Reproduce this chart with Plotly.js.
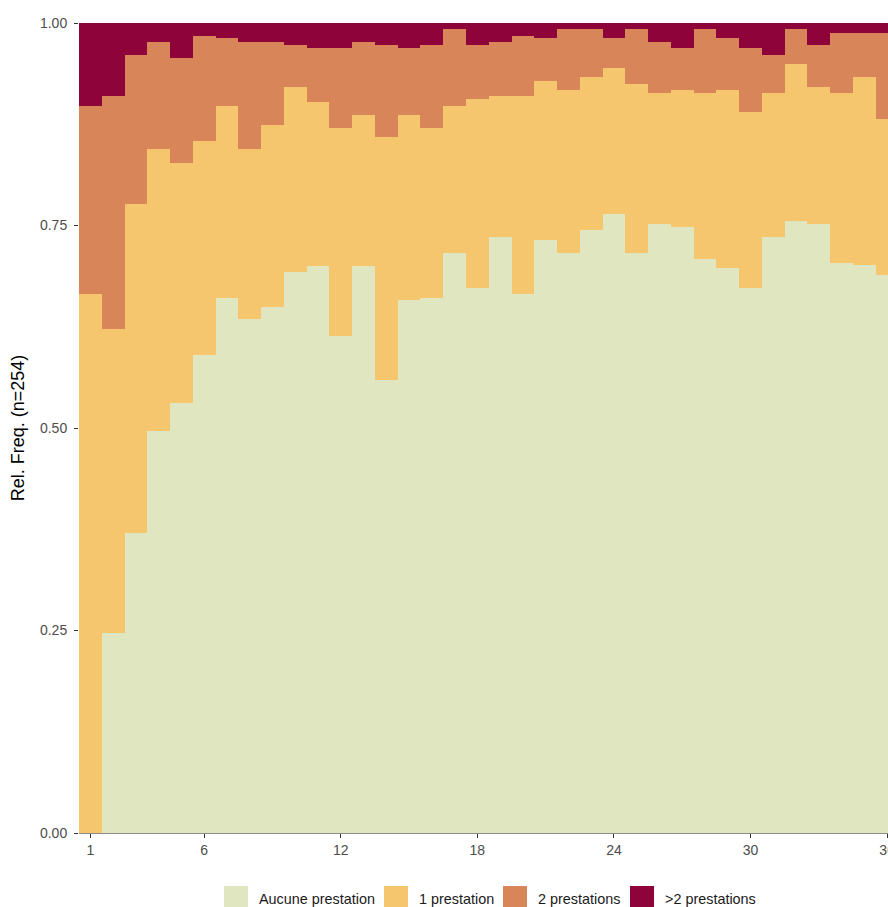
<!DOCTYPE html>
<html>
<head>
<meta charset="utf-8">
<script src="https://cdn.plot.ly/plotly-3.0.1.min.js"></script>
<style>html,body{margin:0;padding:0;background:#fff;overflow:hidden}#chart{width:888px;height:907px}</style>
</head>
<body>
<div id="chart"></div>
<script>
// Categories (x positions)
var categories = [1,2,3,4,5,6,7,8,9,10,11,12,13,14,15,16,17,18,19,20,21,22,23,24,25,26,27,28,29,30,31,32,33,34,35,36];

// Series values (relative frequencies)
var aucune = [0.000,0.247,0.370,0.496,0.531,0.590,0.661,0.634,0.649,0.693,0.700,0.614,0.700,0.559,0.658,0.661,0.716,0.673,0.736,0.665,0.732,0.716,0.744,0.764,0.716,0.752,0.748,0.709,0.697,0.673,0.736,0.756,0.752,0.704,0.701,0.689];
var une = [0.665,0.375,0.406,0.348,0.296,0.264,0.237,0.210,0.225,0.228,0.202,0.256,0.186,0.300,0.228,0.209,0.182,0.233,0.174,0.245,0.197,0.201,0.189,0.181,0.209,0.162,0.169,0.205,0.220,0.217,0.178,0.193,0.169,0.210,0.232,0.193];
var deux = [0.233,0.288,0.185,0.133,0.130,0.130,0.083,0.133,0.103,0.052,0.067,0.099,0.091,0.114,0.083,0.103,0.094,0.067,0.067,0.074,0.052,0.075,0.059,0.036,0.067,0.063,0.052,0.078,0.064,0.079,0.047,0.043,0.052,0.074,0.055,0.106];
var plus = [0.102,0.090,0.039,0.023,0.043,0.016,0.019,0.023,0.023,0.027,0.031,0.031,0.023,0.027,0.031,0.027,0.008,0.027,0.023,0.016,0.019,0.008,0.008,0.019,0.008,0.023,0.031,0.008,0.019,0.031,0.039,0.008,0.027,0.012,0.012,0.012];

var seriesNames = ["Aucune prestation","1 prestation","2 prestations",">2 prestations"];
var seriesColors = ["#E0E6C0","#F5C66E","#D9855A","#8E033A"];
var seriesValues = [aucune, une, deux, plus];

// Tick labels
var xTickVals = [1,6,12,18,24,30,36];
var yTickVals = [0,0.25,0.5,0.75,1];
var yTickText = ["0.00","0.25","0.50","0.75","1.00"];
var yTitle = "Rel. Freq. (n=254)";

var traces = seriesValues.map(function(v,i){
  return {
    type:"bar", x:categories, y:v, name:seriesNames[i],
    marker:{color:seriesColors[i], line:{width:0}},
    width:1, showlegend:false, hoverinfo:"x+y+name"
  };
});

// Custom legend (swatches + labels) in paper coordinates
var legSwX = [[0.1792,0.2089],[0.3770,0.4067],[0.5241,0.5538],[0.6811,0.7108]];
var legTxtX = [0.2200,0.4178,0.5649,0.7219];
var shapes = [], annotations = [];
for (var i=0;i<4;i++){
  shapes.push({type:"rect", xref:"paper", yref:"paper", x0:legSwX[i][0], x1:legSwX[i][1], y0:-0.0951, y1:-0.0654,
    fillcolor:seriesColors[i], line:{width:0}});
  annotations.push({xref:"paper", yref:"paper", x:legTxtX[i], y:-0.0815, xanchor:"left", yanchor:"middle",
    text:seriesNames[i], showarrow:false, font:{size:14.4, color:"#1A1A1A"}});
}

var layout = {
  width:888, height:907,
  margin:{l:79, r:0, t:23, b:74},
  paper_bgcolor:"#FFFFFF", plot_bgcolor:"#FFFFFF",
  font:{family:"Liberation Sans, Arial, sans-serif", size:14, color:"#4D4D4D"},
  barmode:"stack", bargap:0,
  xaxis:{range:[0.5,36.04], tickmode:"array", tickvals:xTickVals, ticks:"outside", ticklen:4, tickwidth:1,
    tickcolor:"#333333", showline:true, linecolor:"#8C8C8C", linewidth:1, showgrid:false, zeroline:false,
    ticklabeloverflow:"allow",
    tickfont:{size:14, color:"#4D4D4D"}, fixedrange:true},
  yaxis:{range:[0,1], tickmode:"array", tickvals:yTickVals, ticktext:yTickText, ticks:"outside", ticklen:4, tickwidth:1,
    tickcolor:"#333333", showline:false, showgrid:false, zeroline:false, ticklabelstandoff:4,
    tickfont:{size:14, color:"#4D4D4D"},
    title:{text:yTitle, font:{size:18, color:"#000000"}, standoff:10}, fixedrange:true},
  shapes:shapes, annotations:annotations, showlegend:false
};

Plotly.newPlot("chart", traces, layout, {displayModeBar:false, staticPlot:true});
</script>
</body>
</html>
